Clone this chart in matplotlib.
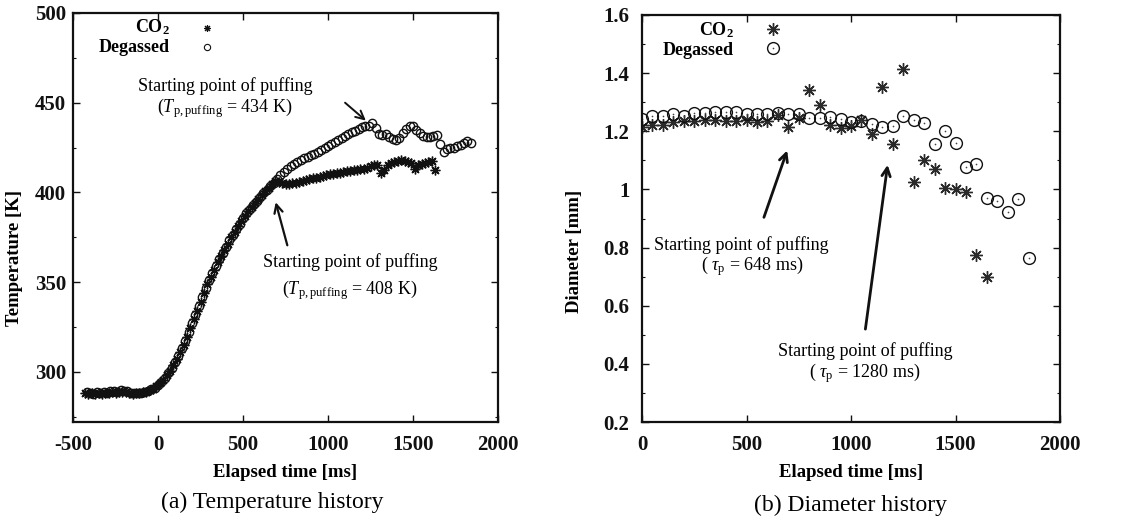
import numpy as np
import matplotlib
matplotlib.use("Agg")
import matplotlib.pyplot as plt
from matplotlib.ticker import MultipleLocator, AutoMinorLocator

plt.rcParams['font.family'] = ['Liberation Serif', 'DejaVu Serif']
plt.rcParams['mathtext.fontset'] = 'custom'
plt.rcParams['mathtext.rm'] = 'Liberation Serif'
plt.rcParams['mathtext.it'] = 'Liberation Serif:italic'
plt.rcParams['mathtext.bf'] = 'Liberation Serif:bold'
plt.rcParams['axes.unicode_minus'] = False

# ---------------- (a) Temperature history ----------------
temp_co2_t0, temp_co2_dt = -430, 20   # ms
temp_co2 = [288.0, 287.5, 288.3, 287.8, 288.2, 287.6, 288.4, 288.0, 288.8, 288.3,
            289.0, 288.5, 288.8, 288.0, 287.8, 288.2, 288.0, 288.6, 289.0, 289.8,
            290.6, 291.8, 293.5, 295.5, 298.0, 300.5, 303.5, 307.0, 311.0, 315.0,
            319.5, 324.5, 329.5, 334.0, 339.0, 344.0, 349.0, 353.0, 357.0, 361.0,
            364.5, 368.0, 371.5, 375.0, 378.0, 381.0, 384.0, 387.0, 389.5, 392.0,
            394.0, 396.5, 398.5, 400.5, 402.5, 404.5, 406.5, 406.0, 405.0, 404.5,
            404.8, 405.0, 405.3, 405.8, 406.3, 406.8, 407.2, 407.8, 408.2, 408.8,
            409.2, 409.6, 410.0, 410.3, 410.6, 411.0, 411.3, 411.7, 412.0, 412.3,
            412.7, 413.0, 413.3, 413.8, 414.5, 415.2, 415.5, 410.8, 412.5, 415.0,
            416.5, 417.0, 417.5, 418.0, 417.6, 417.0, 416.5, 413.0, 415.5, 416.0,
            416.5, 417.0, 417.5, 412.5]

temp_deg_t0, temp_deg_dt = -420, 20   # ms
temp_deg = [288.5, 288.0, 287.8, 288.5, 288.0, 288.6, 288.2, 289.2, 289.5, 289.0,
            289.6, 289.3, 289.5, 288.3, 288.0, 288.4, 288.3, 288.8, 289.4, 290.2,
            291.2, 292.6, 294.5, 296.8, 299.2, 302.0, 305.2, 309.0, 313.0, 317.2,
            322.0, 327.0, 331.8, 336.5, 341.5, 346.5, 351.0, 355.0, 359.0, 362.8,
            366.3, 369.8, 373.3, 376.5, 379.5, 382.5, 385.5, 388.3, 390.8, 393.2,
            395.3, 397.5, 399.5, 401.5, 403.5, 405.5, 407.2, 409.5, 411.5, 413.2,
            414.8, 416.0, 417.0, 418.0, 419.0, 420.0, 420.8, 421.5, 422.5, 423.5,
            424.5, 425.8, 427.0, 428.0, 429.2, 430.5, 431.5, 432.8, 433.8, 434.2,
            435.2, 436.5, 437.2, 436.8, 438.5, 436.0, 432.5, 431.8, 432.5, 430.8,
            429.5, 429.0, 430.5, 433.0, 435.5, 436.8, 437.0, 435.0, 433.0, 431.5,
            430.8, 431.0, 431.5, 431.8, 427.0, 422.5, 424.0, 424.5, 425.0, 425.8,
            426.5, 427.5, 428.5, 427.8]

# ---------------- (b) Diameter history ----------------
diam_dt = 50  # ms
diam_co2 = [1.214, 1.223, 1.223, 1.232, 1.236, 1.236, 1.240, 1.240, 1.236, 1.236,
            1.240, 1.232, 1.236, 1.256, 1.214, 1.245, 1.341, 1.290, 1.223, 1.211,
            1.217, 1.240, 1.189, 1.353, 1.157, 1.415, 1.027, 1.101, 1.070, 1.005,
            1.002, 0.991, 0.775, 0.699]
diam_deg = [1.243, 1.251, 1.251, 1.259, 1.254, 1.264, 1.264, 1.268, 1.266, 1.266,
            1.259, 1.261, 1.261, 1.264, 1.261, 1.259, 1.245, 1.245, 1.249, 1.243,
            1.232, 1.236, 1.225, 1.215, 1.219, 1.254, 1.240, 1.228, 1.157, 1.200,
            1.158, 1.076, 1.089, 0.972, 0.959, 0.921, 0.966, 0.765]

series_labels = ['CO$_{\\mathbf{2}}$', 'Degassed']
captions = ['(a) Temperature history', '(b) Diameter history']

t_co2 = temp_co2_t0 + temp_co2_dt * np.arange(len(temp_co2))
t_deg = temp_deg_t0 + temp_deg_dt * np.arange(len(temp_deg))
td_co2 = diam_dt * np.arange(len(diam_co2))
td_deg = diam_dt * np.arange(len(diam_deg))

ASTER = (8, 2, 0)
INK = '#111111'

fig = plt.figure(figsize=(11.28, 5.22), dpi=100)
axA = fig.add_axes([73/1128, 100/522, 425/1128, 409/522])
axB = fig.add_axes([642/1128, 100/522, 418/1128, 407/522])

def style(ax, ypad):
    for s in ax.spines.values():
        s.set_linewidth(1.6)
        s.set_color('#111111')
    ax.tick_params(which='both', direction='in', top=True, right=True, colors='#111111')
    ax.tick_params(which='major', length=5, width=1.0)
    ax.tick_params(which='minor', length=2.5, width=0.8)
    ax.tick_params(axis='x', which='minor', bottom=False, top=False)
    ax.tick_params(axis='x', pad=9, labelsize=15)
    ax.tick_params(axis='y', pad=ypad, labelsize=15)
    for lab in ax.get_xticklabels() + ax.get_yticklabels():
        lab.set_fontweight('bold')

# ---- panel (a)
axA.plot(t_co2, temp_co2, linestyle='none', marker=ASTER, markersize=7,
         markeredgewidth=1.0, color=INK)
axA.plot(t_deg, temp_deg, linestyle='none', marker='o', markersize=6,
         markerfacecolor='none', markeredgewidth=1.0, markeredgecolor=INK)
axA.set_xlim(-500, 2000)
axA.set_ylim(272, 500)
axA.xaxis.set_major_locator(MultipleLocator(500))
axA.yaxis.set_major_locator(MultipleLocator(50))
axA.yaxis.set_minor_locator(AutoMinorLocator(2))
style(axA, 5)
axA.set_xlabel('Elapsed time [ms]', fontsize=13.5, fontweight='bold', labelpad=7)
axA.set_ylabel('Temperature [K]', fontsize=13.5, fontweight='bold')
axA.yaxis.set_label_coords(-0.118, 0.40)

# legend keys (a)
axA.text(0.228, 0.965, series_labels[0], transform=axA.transAxes, ha='right',
         va='center', fontsize=13, fontweight='bold')
axA.text(0.228, 0.915, series_labels[1], transform=axA.transAxes, ha='right',
         va='center', fontsize=13, fontweight='bold')
axA.plot([0.315], [0.963], transform=axA.transAxes, marker=ASTER, markersize=5,
         markeredgewidth=0.8, color=INK, clip_on=False)
axA.plot([0.315], [0.917], transform=axA.transAxes, marker='o', markersize=4.5,
         markerfacecolor='none', markeredgewidth=0.8, markeredgecolor=INK, clip_on=False)

# annotations (a)
axA.text(394, 459.5, 'Starting point of puffing', ha='center', va='center', fontsize=13)
axA.text(394, 447.0, '($\\mathit{T}_{\\mathrm{p,puffing}}$ = 434 K)', ha='center',
         va='center', fontsize=13)
axA.annotate('', xy=(1235, 439), xytext=(1088, 451),
             arrowprops=dict(arrowstyle='->,head_length=0.6,head_width=0.3', lw=1.4, color='#111111'))
axA.text(1129, 361, 'Starting point of puffing', ha='center', va='center', fontsize=13)
axA.text(1129, 345.8, '($\\mathit{T}_{\\mathrm{p,puffing}}$ = 408 K)', ha='center',
         va='center', fontsize=13)
axA.annotate('', xy=(688, 396), xytext=(765, 369),
             arrowprops=dict(arrowstyle='->,head_length=0.6,head_width=0.3', lw=1.6, color='#111111'))

# ---- panel (b)
axB.plot(td_co2, diam_co2, linestyle='none', marker=ASTER, markersize=9,
         markeredgewidth=1.0, color='#2a2a2a')
axB.plot(td_deg, diam_deg, linestyle='none', marker='o', markersize=8.5,
         markerfacecolor='none', markeredgewidth=1.0, markeredgecolor=INK)
axB.plot(td_deg, diam_deg, linestyle='none', marker='o', markersize=1.2,
         markeredgewidth=0, color='#444444')
axB.set_xlim(0, 2000)
axB.set_ylim(0.2, 1.6)
axB.xaxis.set_major_locator(MultipleLocator(500))
axB.yaxis.set_major_locator(MultipleLocator(0.2))
axB.yaxis.set_minor_locator(AutoMinorLocator(2))
axB.yaxis.set_major_formatter(plt.FuncFormatter(lambda v, p: ('%g' % round(v, 2))))
style(axB, 9)
axB.set_xlabel('Elapsed time [ms]', fontsize=13.5, fontweight='bold', labelpad=7)
axB.set_ylabel('Diameter [mm]', fontsize=13.5, fontweight='bold')
axB.yaxis.set_label_coords(-0.141, 0.42)

axB.text(0.219, 0.963, series_labels[0], transform=axB.transAxes, ha='right',
         va='center', fontsize=13, fontweight='bold')
axB.text(0.219, 0.914, series_labels[1], transform=axB.transAxes, ha='right',
         va='center', fontsize=13, fontweight='bold')
axB.plot([0.313], [0.966], transform=axB.transAxes, marker=ASTER, markersize=9,
         markeredgewidth=1.0, color='#2a2a2a', clip_on=False)
axB.plot([0.313], [0.919], transform=axB.transAxes, marker='o', markersize=8.5,
         markerfacecolor='none', markeredgewidth=1.0, markeredgecolor=INK, clip_on=False)
axB.plot([0.313], [0.919], transform=axB.transAxes, marker='o', markersize=1.2,
         markeredgewidth=0, color='#444444', clip_on=False)

axB.text(474, 0.81, 'Starting point of puffing', ha='center', va='center', fontsize=13)
axB.text(526, 0.735, '( $\\tau_{\\mathrm{p}}$ = 648 ms)', ha='center', va='center', fontsize=13)
axB.annotate('', xy=(699, 1.143), xytext=(579, 0.895),
             arrowprops=dict(arrowstyle='->,head_length=0.6,head_width=0.3', lw=2.0, color='#111111'))
axB.text(1067, 0.444, 'Starting point of puffing', ha='center', va='center', fontsize=13)
axB.text(1067, 0.369, '( $\\tau_{\\mathrm{p}}$ = 1280 ms)', ha='center', va='center', fontsize=13)
axB.annotate('', xy=(1177, 1.094), xytext=(1067, 0.51),
             arrowprops=dict(arrowstyle='->,head_length=0.6,head_width=0.3', lw=2.0, color='#111111'))

fig.text(272/1128, 1 - 502/522, captions[0], ha='center', va='center', fontsize=17)
fig.text(850/1128, 1 - 505/522, captions[1], ha='center', va='center', fontsize=17)

fig.savefig('out.png', dpi=100)
